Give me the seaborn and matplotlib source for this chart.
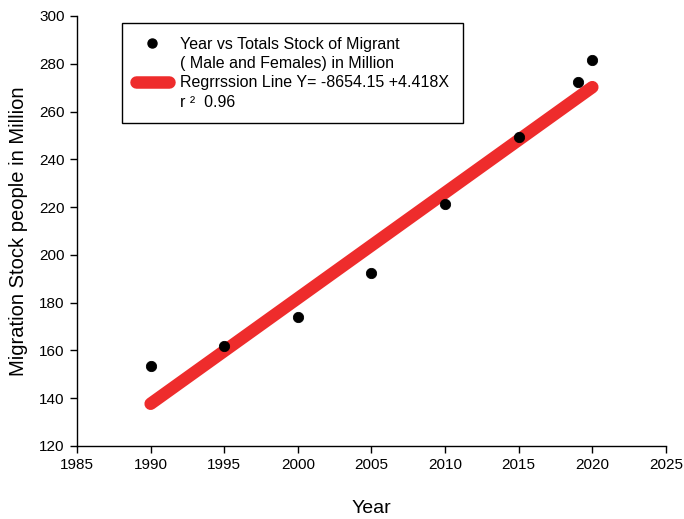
import numpy as np
import pandas as pd
import matplotlib
matplotlib.use("Agg")
import matplotlib.pyplot as plt
from matplotlib.lines import Line2D
import seaborn as sns

sns.set_theme(style="ticks")
plt.rcParams['font.family'] = ['Liberation Sans', 'DejaVu Sans']
plt.rcParams.update({"text.color": "black", "axes.labelcolor": "black",
                     "xtick.color": "black", "ytick.color": "black"})

# data
years = [1990, 1995, 2000, 2005, 2010, 2015, 2019, 2020]
migrants = [153.5, 162, 174, 192.3, 221.3, 249.5, 272.4, 281.5]

# regression shown in the legend
intercept = -8654.15
slope = 4.418
line_years = [1990, 2020]

df = pd.DataFrame({"Year": years, "Migrants": migrants})
fit = pd.DataFrame({"Year": line_years,
                    "Fit": [intercept + slope * y for y in line_years]})

fig = plt.figure(figsize=(6.84, 5.19), dpi=100)
ax = fig.add_axes([0.1126, 0.1407, 0.861, 0.8285])

sns.lineplot(data=fit, x="Year", y="Fit", ax=ax, color="#EE2C2C",
             linewidth=9, solid_capstyle="round", zorder=2)
sns.scatterplot(data=df, x="Year", y="Migrants", ax=ax, color="black",
                s=55, edgecolor="black", zorder=3)

ax.set_xlim(1985, 2025)
ax.set_ylim(120, 300)
ax.set_xticks(range(1985, 2026, 5))
ax.set_yticks(range(120, 301, 20))
ax.tick_params(axis="both", direction="out", length=5, width=1,
               labelsize=11, pad=4)
for s in ["left", "bottom"]:
    ax.spines[s].set_color("black")
    ax.spines[s].set_linewidth(1)
sns.despine(ax=ax)
ax.set_xlabel("Year", fontsize=14, labelpad=20)
ax.set_ylabel("Migration Stock people in Million", fontsize=14.5, labelpad=8)

blank = Line2D([], [], linestyle="none", marker=None)
handles = [
    Line2D([], [], linestyle="none", marker="o", color="black", markersize=6.5),
    blank,
    Line2D([], [], color="#EE2C2C", linewidth=9, solid_capstyle="round"),
    blank,
]
labels = [
    "Year vs Totals Stock of Migrant",
    "( Male and Females) in Million",
    "Regrrssion Line Y= -8654.15 +4.418X",
    "r \u00b2  0.96",
]
leg = ax.legend(handles, labels, loc="upper left",
                bbox_to_anchor=(0.0764, 0.9837), borderaxespad=0,
                fontsize=11.5, frameon=True,
                fancybox=False, edgecolor="black", framealpha=1,
                handlelength=2.1, handletextpad=0.7, labelspacing=0.27,
                borderpad=0.85)
leg.get_frame().set_linewidth(1)

fig.savefig("out.png", dpi=100)
